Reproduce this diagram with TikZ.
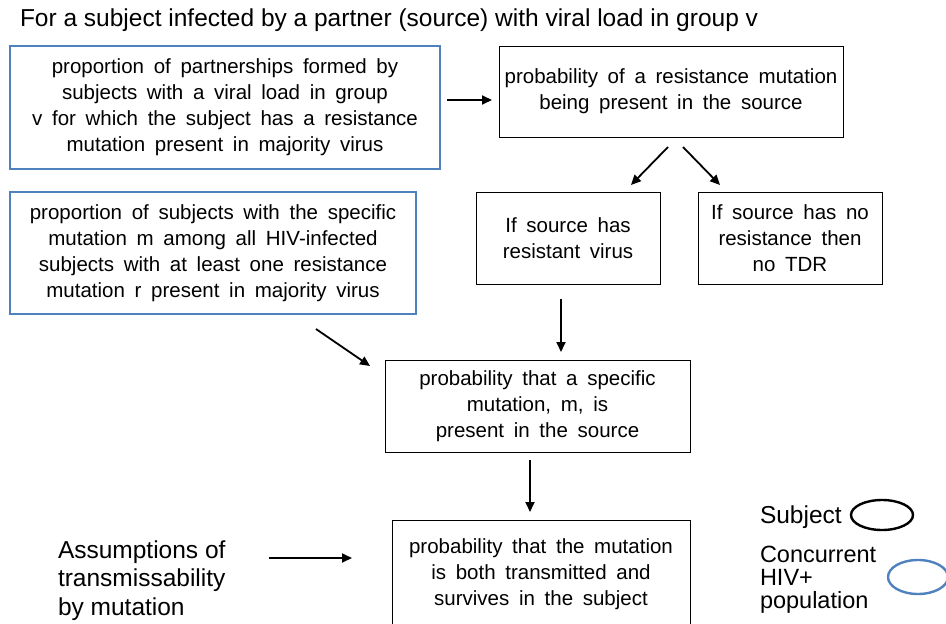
\documentclass[tikz,border=0pt]{standalone}
\usepackage{fontspec}
\setmainfont{Liberation Sans}
\newfontfamily\boxfont{Liberation Sans}[WordSpace=1.7]
\usetikzlibrary{arrows.meta,calc,shapes.geometric}
\definecolor{popblue}{RGB}{79,129,189}
\begin{document}
\begin{tikzpicture}[x=1pt,y=-1pt,
  every node/.style={inner sep=0pt, outer sep=0pt},
  boxtext/.style={align=center, font=\boxfont\fontsize{20.5}{26}\selectfont},
  popbox/.style={boxtext, draw=popblue, line width=2.4pt},
  subjbox/.style={boxtext, draw=black, line width=0.9pt},
  flow/.style={line width=1.8pt, -{Triangle[width=9pt,length=10pt]}},
  bigtext/.style={font=\fontsize{24.5}{24.5}\selectfont}
]
\useasboundingbox (0,0) rectangle (946,624);
\clip (0,0) rectangle (946,624);

% heading
\node[bigtext, anchor=west] (head) at (20,20) {For a subject infected by a partner (source) with viral load in group v};

% boxes
\node[popbox, minimum width=430, minimum height=123] (A) at (225,107.5)
  {proportion of partnerships formed by\\ subjects with a viral load in group\\ v for which the subject has a resistance\\ mutation present in majority virus};
\node[subjbox, minimum width=344, minimum height=91] (B) at (671,91.5)
  {probability of a resistance mutation\\ being present in the source};
\node[subjbox, minimum width=184, minimum height=92] (C) at (568,238)
  {If source has\\ resistant virus};
\node[subjbox, minimum width=184, minimum height=92] (D) at (790,238)
  {If source has no\\ resistance then\\ no TDR};
\node[popbox, minimum width=406, minimum height=122] (E) at (213,253)
  {proportion of subjects with the specific\\ mutation m among all HIV-infected\\ subjects with at least one resistance\\ mutation r present in majority virus};
\node[subjbox, minimum width=305, minimum height=92] (F) at (537.5,406)
  {probability that a specific\\ mutation, m, is\\ present in the source};
\node[subjbox, minimum width=298, minimum height=108] (G) at (541,574)
  {probability that the mutation\\ is both transmitted and\\ survives in the subject};

\node[align=left, anchor=west, font=\fontsize{24.5}{28.5}\selectfont] (S) at (58,580.5)
  {Assumptions of\\ transmissability\\ by mutation};

% connectors
\draw[flow] ($(A.east)+(7,-7.5)$) -- ($(B.west)+(-7,8.5)$);
\draw[flow] ($(B.south)+(-3,10)$) -- ($(C.north)+(63,-7)$);
\draw[flow] ($(B.south)+(12,10)$) -- ($(D.north)+(-70,-7)$);
\draw[flow] ($(E.south east)+(-100,15)$) -- ($(F.north west)+(-15,6)$);
\draw[flow] ($(C.south)+(-7,15)$) -- ($(C.south |- F.north)+(-7,-8)$);
\draw[flow] ($(F.south)+(-7.5,8)$) -- ($(G.north)+(-11,-8)$);
\draw[flow] ($(S.east)+(44,-22.5)$) -- ($(G.west)+(-40,-16)$);

% key
\node[bigtext, anchor=west] (k1) at (760,517) {Subject};
\node[ellipse, draw=black, line width=2.4pt, minimum width=62, minimum height=30] (e1) at (882,515) {};
\node[anchor=west, align=left, font=\fontsize{23.5}{23}\selectfont] (k2) at (760,580) {Concurrent\\ HIV+\\ population};
\node[ellipse, draw=popblue, line width=2.4pt, minimum width=60, minimum height=34] (e2) at (918,577) {};
\end{tikzpicture}
\end{document}
